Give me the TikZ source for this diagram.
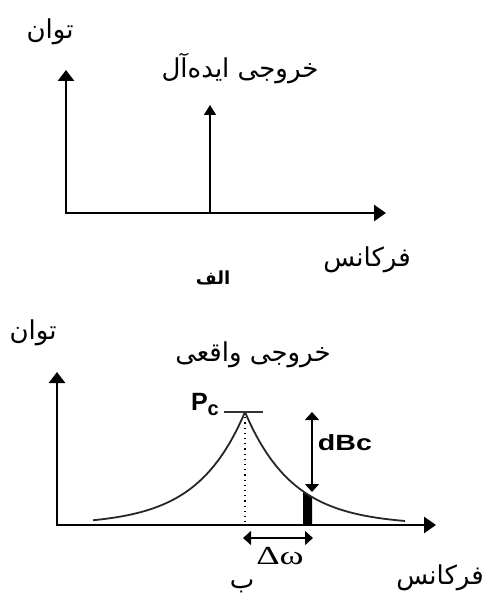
\documentclass[tikz,border=0pt]{standalone}
\usepackage{fontspec}
\usetikzlibrary{arrows.meta}
\newfontfamily\arabicfont[Script=Arabic]{DejaVu Sans}
\newfontfamily\labelfont{Liberation Sans}
\newfontfamily\greekfont{Liberation Serif}
\TeXXeTstate=1

\begin{document}
\begin{tikzpicture}[x=1pt,y=-1pt,
  axis/.style={line width=2.8pt,line join=miter,{Triangle[width=16pt,length=11pt]}-{Triangle[width=16pt,length=12pt]}},
  spike/.style={line width=1.6pt,-{Triangle[width=12pt,length=10pt]}},
  gap/.style={line width=1.2pt,{Triangle[width=14pt,length=8pt]}-{Triangle[width=14pt,length=8pt]}},
  fatext/.style={font=\arabicfont\fontsize{26}{30}\selectfont},
  latin/.style={font=\labelfont\bfseries\fontsize{25}{28}\selectfont}]
  \useasboundingbox (0,0) rectangle (487,599);
  % panel a: ideal output
  \coordinate (ytipA) at (66,70);
  \coordinate (originA) at (66,213);
  \coordinate (xtipA) at (386,213);
  \coordinate (spikeBase) at (210,213);
  \coordinate (spikeTip) at (210,105);
  \draw[axis] (ytipA) -- (originA) -- (xtipA);
  \draw[spike] (spikeBase) -- (spikeTip);
  \node[fatext] (powerA) at (50,32) {\beginR توان\endR};
  \node[fatext] (idealA) at (240,68) {\beginR خروجی ایده^^^^200cآل\endR};
  \node[fatext] (freqA) at (367,260) {\beginR فرکانس\endR};
  \node[fatext,font=\arabicfont\bfseries\fontsize{18}{20}\selectfont] (capA) at (213,278) {\beginR الف\endR};
  % panel b: real output
  \coordinate (ytipB) at (57,372);
  \coordinate (originB) at (57,525);
  \coordinate (xtipB) at (436,525);
  \coordinate (peak) at (245,412);
  \coordinate (peakFoot) at (245,525);
  \coordinate (barL) at (224,412);
  \coordinate (barR) at (263,412);
  \coordinate (dbTop) at (312,412);
  \coordinate (dbBot) at (312,492);
  \coordinate (dwL) at (243,538);
  \coordinate (dwR) at (313,538);
  \draw[axis] (ytipB) -- (originB) -- (xtipB);
  \fill (303,525) -- (303,491) -- (312,497) -- (312,525) -- cycle;
  \draw[line width=1.8pt,black!85,domain=93:245,samples=60,smooth]
    plot (\x,{525-113*exp(-(245-\x)/48)});
  \draw[line width=1.8pt,black!85,domain=245:405,samples=60,smooth]
    plot (\x,{525-113*exp(-(\x-245)/48)});
  \draw[line width=1.2pt,dash pattern=on 1.2pt off 4pt] (peak) -- (peakFoot);
  \draw[line width=1.4pt,black!80] (barL) -- (barR);
  \draw[gap] (dbTop) -- (dbBot);
  \draw[gap] (dwL) -- (dwR);
  \node[latin,anchor=south east,inner sep=0pt] (pc) at (219,416) {P\raisebox{-0.35ex}{\fontsize{20}{22}\selectfont c}};
  \node[latin,xscale=1.3,font=\labelfont\bfseries\fontsize{22}{24}\selectfont] (dbc) at (345,443) {dBc};
  \node[font=\greekfont\fontsize{26}{28}\selectfont,xscale=1.4] (dw) at (280,556) {Δω};
  \node[fatext] (powerB) at (33,333) {\beginR توان\endR};
  \node[fatext] (realB) at (253,355) {\beginR خروجی واقعی\endR};
  \node[fatext] (freqB) at (440,578) {\beginR فرکانس\endR};
  \node[fatext] (capB) at (242,586) {\beginR ب\endR};
\end{tikzpicture}
\end{document}
